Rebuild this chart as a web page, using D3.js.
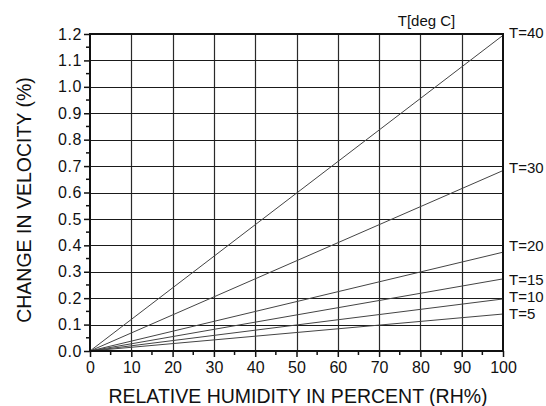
<!DOCTYPE html>
<html><head><meta charset="utf-8">
<script src="https://cdn.jsdelivr.net/npm/d3@7/dist/d3.min.js"></script>
<style>
body{margin:0;background:#fff;}
text{font-family:"Liberation Sans",Arial,sans-serif;fill:#111;}
</style></head>
<body><svg id="c" width="546" height="406"></svg>
<script>
const rhValues = [0, 100];
const seriesNames = ["T=40", "T=30", "T=20", "T=15", "T=10", "T=5"];
const seriesEnd = [1.195, 0.683, 0.374, 0.273, 0.197, 0.140];
const xTicks = [0,10,20,30,40,50,60,70,80,90,100];
const yTicks = [0,0.1,0.2,0.3,0.4,0.5,0.6,0.7,0.8,0.9,1.0,1.1,1.2];
const labelPos = [1.205, 0.693, 0.399, 0.27, 0.206, 0.14];

const svg = d3.select("#c");
const L=90, R=503, T=34, B=351;
const x = d3.scaleLinear().domain([0,100]).range([L,R]);
const y = d3.scaleLinear().domain([0,1.2]).range([B,T]);

// grid
svg.append("g").selectAll("line").data(xTicks.slice(1,-1)).join("line")
  .attr("x1",d=>Math.round(x(d))+0.5).attr("x2",d=>Math.round(x(d))+0.5)
  .attr("y1",T).attr("y2",B).attr("stroke","#2a2a2a").attr("stroke-width",1.2);
svg.append("g").selectAll("line").data(yTicks.slice(1,-1)).join("line")
  .attr("y1",d=>Math.round(y(d))+0.5).attr("y2",d=>Math.round(y(d))+0.5)
  .attr("x1",L).attr("x2",R).attr("stroke","#1a1a1a").attr("stroke-width",1.2);

// series lines
const line = d3.line().x(d=>x(d[0])).y(d=>y(d[1]));
svg.append("g").selectAll("path").data(seriesEnd).join("path")
  .attr("d",v=>line(rhValues.map(r=>[r, v*r/100])))
  .attr("fill","none").attr("stroke","#444").attr("stroke-width",1);

// axes
const xAxis = d3.axisBottom(x).tickValues(xTicks).tickSize(6).tickPadding(5).tickFormat(d3.format("d"));
const gx = svg.append("g").attr("transform",`translate(0,${B})`).call(xAxis);
const yAxis = d3.axisLeft(y).tickValues(yTicks).tickSize(6).tickPadding(2).tickFormat(d3.format(".1f"));
const gy = svg.append("g").attr("transform",`translate(${L},0)`).call(yAxis);
[gx,gy].forEach(g=>{
  g.select(".domain").remove();
  g.selectAll(".tick line").attr("stroke","#111").attr("stroke-width",1.5);
  g.selectAll("text").attr("font-size",16).attr("font-family","Liberation Sans, Arial, sans-serif").attr("fill","#111");
});
gy.selectAll("text").attr("letter-spacing",0.6);
// minor ticks
const xMinor = d3.range(5,100,10);
svg.append("g").selectAll("line").data(xMinor).join("line")
  .attr("x1",d=>x(d)).attr("x2",d=>x(d)).attr("y1",B).attr("y2",B+4)
  .attr("stroke","#111").attr("stroke-width",1.5);
const yMinor = d3.range(0.05,1.2,0.1);
svg.append("g").selectAll("line").data(yMinor).join("line")
  .attr("y1",d=>y(d)).attr("y2",d=>y(d)).attr("x1",L).attr("x2",L-4)
  .attr("stroke","#111").attr("stroke-width",1.5);

// frame
svg.append("rect").attr("x",L).attr("y",T).attr("width",R-L).attr("height",B-T)
  .attr("fill","none").attr("stroke","#111").attr("stroke-width",2);

// series labels
svg.append("g").selectAll("text").data(seriesNames).join("text")
  .attr("x",R+6).attr("y",(d,i)=>y(labelPos[i])).attr("dy","0.36em")
  .attr("font-size",15).text(d=>d);
svg.append("text").attr("x",426.5).attr("y",25.5).attr("text-anchor","middle")
  .attr("font-size",15).text("T[deg C]");

// axis titles
svg.append("text").attr("x",298).attr("y",403).attr("text-anchor","middle")
  .attr("font-size",19.5).text("RELATIVE HUMIDITY IN PERCENT (RH%)");
svg.append("text").attr("transform",`translate(31,200) rotate(-90)`)
  .attr("text-anchor","middle").attr("font-size",19.5).text("CHANGE IN VELOCITY (%)");
</script></body></html>
